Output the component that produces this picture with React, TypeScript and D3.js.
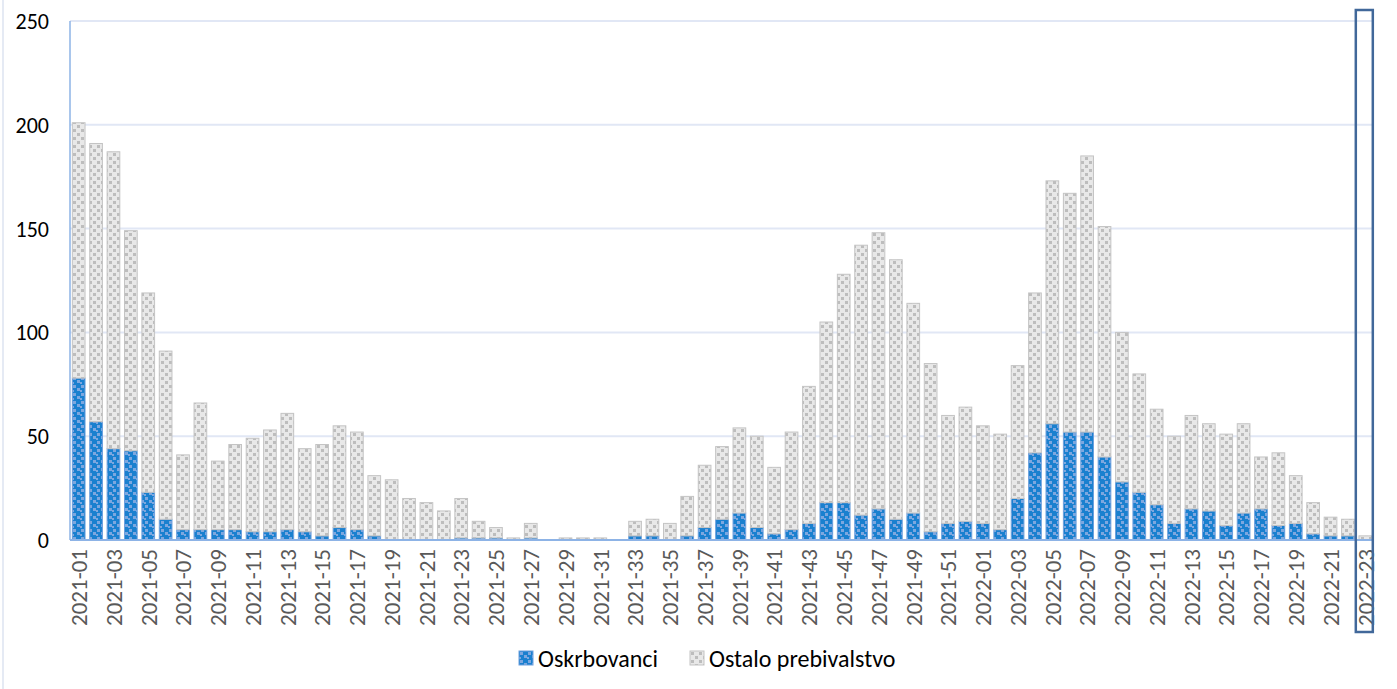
import * as d3 from 'd3'

const W = 1397
const H = 689

// week labels: 2021-01..2021-52, 2022-01..2022-23
const weeks: string[] = [
  ...d3.range(1, 53).map((w) => `2021-${String(w).padStart(2, '0')}`),
  ...d3.range(1, 24).map((w) => `2022-${String(w).padStart(2, '0')}`),
]

const oskrbovanci = [
  78, 57, 44, 43, 23, 10, 5, 5, 5, 5, 4, 4, 5, 4, 2, 6, 5, 2, 0, 0, 0, 0, 1, 1, 1, 0, 1, 0, 0, 0, 0, 0, 2, 2, 0, 2,
  6, 10, 13, 6, 3, 5, 8, 18, 18, 12, 15, 10, 13, 4, 8, 9,
  8, 5, 20, 42, 56, 52, 52, 40, 28, 23, 17, 8, 15, 14, 7, 13, 15, 7, 8, 3, 2, 2, 0,
]

const ostalo = [
  123, 134, 143, 106, 96, 81, 36, 61, 33, 41, 45, 49, 56, 40, 44, 49, 47, 29, 29, 20, 18, 14, 19, 8, 5, 1, 7, 0, 1,
  1, 1, 0, 7, 8, 8, 19, 30, 35, 41, 44, 32, 47, 66, 87, 110, 130, 133, 125, 101, 81, 52, 55,
  47, 46, 64, 77, 117, 115, 133, 111, 72, 57, 46, 42, 45, 42, 44, 43, 25, 35, 23, 15, 9, 8, 2,
]

const yTicks = [0, 50, 100, 150, 200, 250]
const seriesNames = ['Oskrbovanci', 'Ostalo prebivalstvo']
const highlightWeek = '2022-23'

const FONT = 'Carlito, "Liberation Sans", Arial, sans-serif'

export default function App() {
  const margin = { top: 21, right: 23, bottom: 149, left: 70 }
  const innerH = H - margin.top - margin.bottom

  const rows = weeks.map((w, i) => ({ week: w, osk: oskrbovanci[i], ost: ostalo[i] }))
  const series = d3.stack<any>().keys(['osk', 'ost'])(rows)

  const x0 = margin.left
  const x1 = 1374
  const x = d3.scaleBand().domain(weeks).range([x0, x1]).paddingInner(0.27).paddingOuter(0.135)
  const y = d3.scaleLinear().domain([0, 250]).range([margin.top + innerH, margin.top])

  const fills = ['url(#patBlue)', 'url(#patGray)']
  const strokes = ['#6C9FDD', '#C4C4C4']
  const hx = (x(highlightWeek) ?? 0) + x.bandwidth() / 2

  return (
    <div style={{ position: 'fixed', left: 0, top: 0, background: '#fff' }}>
      <svg width={W} height={H} style={{ display: 'block', fontFamily: FONT }}>
        <defs>
          <pattern id="patBlue" width="8" height="8" patternUnits="userSpaceOnUse">
            <rect width="8" height="8" fill="#1A80CF" />
            <rect x="1" y="1" width="3" height="3" fill="#7DA7DF" />
            <rect x="5" y="4" width="3" height="3" fill="#7DA7DF" />
            <rect x="0" y="6" width="2" height="2" fill="#7DA7DF" />
          </pattern>
          <pattern id="patGray" width="8" height="8" patternUnits="userSpaceOnUse">
            <rect width="8" height="8" fill="#E8E8E8" />
            <rect x="1" y="1" width="3" height="3" fill="#BDBDBD" />
            <rect x="5" y="5" width="3" height="3" fill="#BDBDBD" />
          </pattern>
        </defs>

        <rect x={0} y={0} width={W} height={H} fill="#fff" />
        <line x1={3} x2={3} y1={0} y2={H} stroke="#DCE3F1" strokeWidth={1.5} />

        {/* gridlines */}
        {yTicks.map((t) => (
          <g key={t}>
            {t > 0 && <line x1={x0} x2={x1} y1={y(t)} y2={y(t)} stroke="#E1E7F5" strokeWidth={2} />}
            <text x={49} y={y(t)} dy="0.36em" textAnchor="end" fontSize={22} fill="#000">
              {t}
            </text>
          </g>
        ))}

        {/* bars */}
        {series.map((s, i) => (
          <g key={s.key}>
            {s.map((d: any) => {
              const h = y(d[0]) - y(d[1])
              if (h <= 0) return null
              return (
                <rect
                  key={d.data.week}
                  x={x(d.data.week)}
                  y={y(d[1])}
                  width={x.bandwidth()}
                  height={h}
                  fill={fills[i]}
                  stroke={strokes[i]}
                  strokeWidth={1}
                />
              )
            })}
          </g>
        ))}

        {/* axes */}
        <line x1={x0} x2={x0} y1={margin.top} y2={y(0)} stroke="#8DB3E6" strokeWidth={1.5} />
        <line x1={x0} x2={x1} y1={y(0)} y2={y(0)} stroke="#8DB3E6" strokeWidth={2} />

        {weeks.map((w, i) =>
          i % 2 === 0 ? (
            <text
              key={w}
              transform={`translate(${(x(w) ?? 0) + x.bandwidth() / 2},${y(0) + 9}) rotate(-90)`}
              dy="0.36em"
              textAnchor="end"
              fontSize={23}
              fill="#595959"
            >
              {w}
            </text>
          ) : null
        )}

        {/* highlight box around last week */}
        <rect x={hx - 9.5} y={10} width={17} height={622} fill="none" stroke="#41689A" strokeWidth={2.5} />

        {/* legend */}
        <g transform="translate(519,651)">
          <rect width={14} height={14} fill={fills[0]} stroke={strokes[0]} />
          <text x={19} y={7} dy="0.36em" fontSize={24} fill="#000">
            {seriesNames[0]}
          </text>
        </g>
        <g transform="translate(690,651)">
          <rect width={14} height={14} fill={fills[1]} stroke={strokes[1]} />
          <text x={19} y={7} dy="0.36em" fontSize={24} fill="#000">
            {seriesNames[1]}
          </text>
        </g>
      </svg>
    </div>
  )
}
